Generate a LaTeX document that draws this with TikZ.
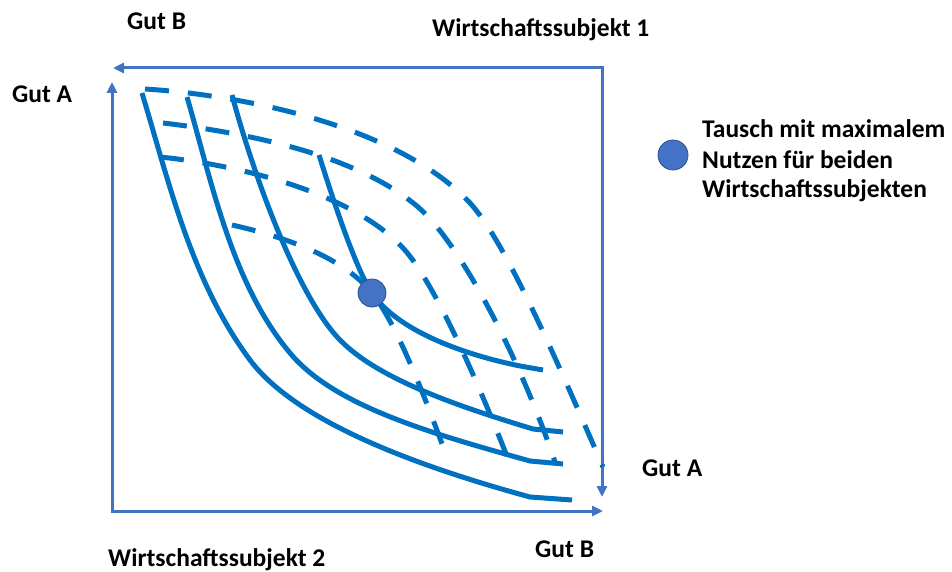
\documentclass[tikz,border=0pt]{standalone}
\usepackage{fontspec}
\setmainfont{Carlito}
\usetikzlibrary{arrows.meta}
\definecolor{axisblue}{HTML}{4472C4}
\definecolor{curveblue}{HTML}{0070C0}
\definecolor{dotedge}{HTML}{2F528F}
\tikzset{
  axis/.style={draw=axisblue, line width=3pt,
    {Triangle[length=11pt,width=10pt]}-{Triangle[length=11pt,width=10pt]}},
  icurve/.style={draw=curveblue, line width=5pt},
  dcurve/.style={icurve, dash pattern=on 24pt off 19pt},
  label/.style={font=\bfseries\fontsize{25.5}{29.5}\selectfont, inner sep=0pt, anchor=base west},
  optimum/.style={circle, fill=axisblue, draw=dotedge, line width=0.8pt, inner sep=0pt, minimum size=#1}
}
\begin{document}
\begin{tikzpicture}[x=1pt, y=-1pt]
\useasboundingbox (0,0) rectangle (952,572);

% corners of the two box diagrams
\coordinate (o2) at (112,511);
\coordinate (a2) at (112,82);
\coordinate (b2) at (603,511);
\coordinate (o1) at (602,68);
\coordinate (b1) at (113,68);
\coordinate (a1) at (602,497);

% axes
\draw[axis] (a2) -- (o2) -- (b2);
\draw[axis] (b1) -- (o1) -- (a1);

% indifference curves of subject 2 (solid)
\draw[icurve] (142,93) .. controls (170,186) and (192,282) .. (250,360)
  .. controls (298,424) and (424,468) .. (530,497) -- (572,500);
\draw[icurve] (187,97) .. controls (212,183) and (232,284) .. (290,353)
  .. controls (335,407) and (434,434) .. (530,461) -- (563,464);
\draw[icurve] (232,95) .. controls (254,177) and (298,297) .. (340,340)
  .. controls (378,379) and (457,406) .. (533,429) -- (563,432);
\draw[icurve] (319,155) .. controls (331,193) and (355,268) .. (372,293)
  .. controls (397,330) and (461,354) .. (520,366) -- (543,370);

% indifference curves of subject 1 (dashed)
\draw[dcurve] (145,89) .. controls (255,96) and (402,130) .. (470,203)
  .. controls (504,240) and (551,347) .. (603,467);
\draw[dcurve] (163,123) .. controls (248,133) and (357,155) .. (418,207)
  .. controls (460,243) and (520,358) .. (555,462);
\draw[dcurve] (160,157) .. controls (240,165) and (352,193) .. (403,248)
  .. controls (434,281) and (481,388) .. (513,472);
\draw[dcurve] (232,225) .. controls (286,237) and (344,258) .. (372,293)
  .. controls (397,324) and (426,400) .. (445,452);

% optimal exchange point and legend marker
\node[optimum=28pt] (opt) at (372,293) {};
\node[optimum=30pt] (legdot) at (673,155) {};

% texts
\node[label] (gb1) at (127,30) {Gut B};
\node[label] (ws1) at (432,37) {Wirtschaftssubjekt 1};
\node[label] (ga2) at (12,103) {Gut A};
\node[label] (ga1) at (642,476) {Gut A};
\node[label] (gb2) at (535,557) {Gut B};
\node[label] (ws2) at (108,566) {Wirtschaftssubjekt 2};
\node[label] (leg1) at (702,138) {Tausch mit maximalem};
\node[label] (leg2) at (702,168) {Nutzen für beiden};
\node[label] (leg3) at (702,197) {Wirtschaftssubjekten};
\end{tikzpicture}
\end{document}
